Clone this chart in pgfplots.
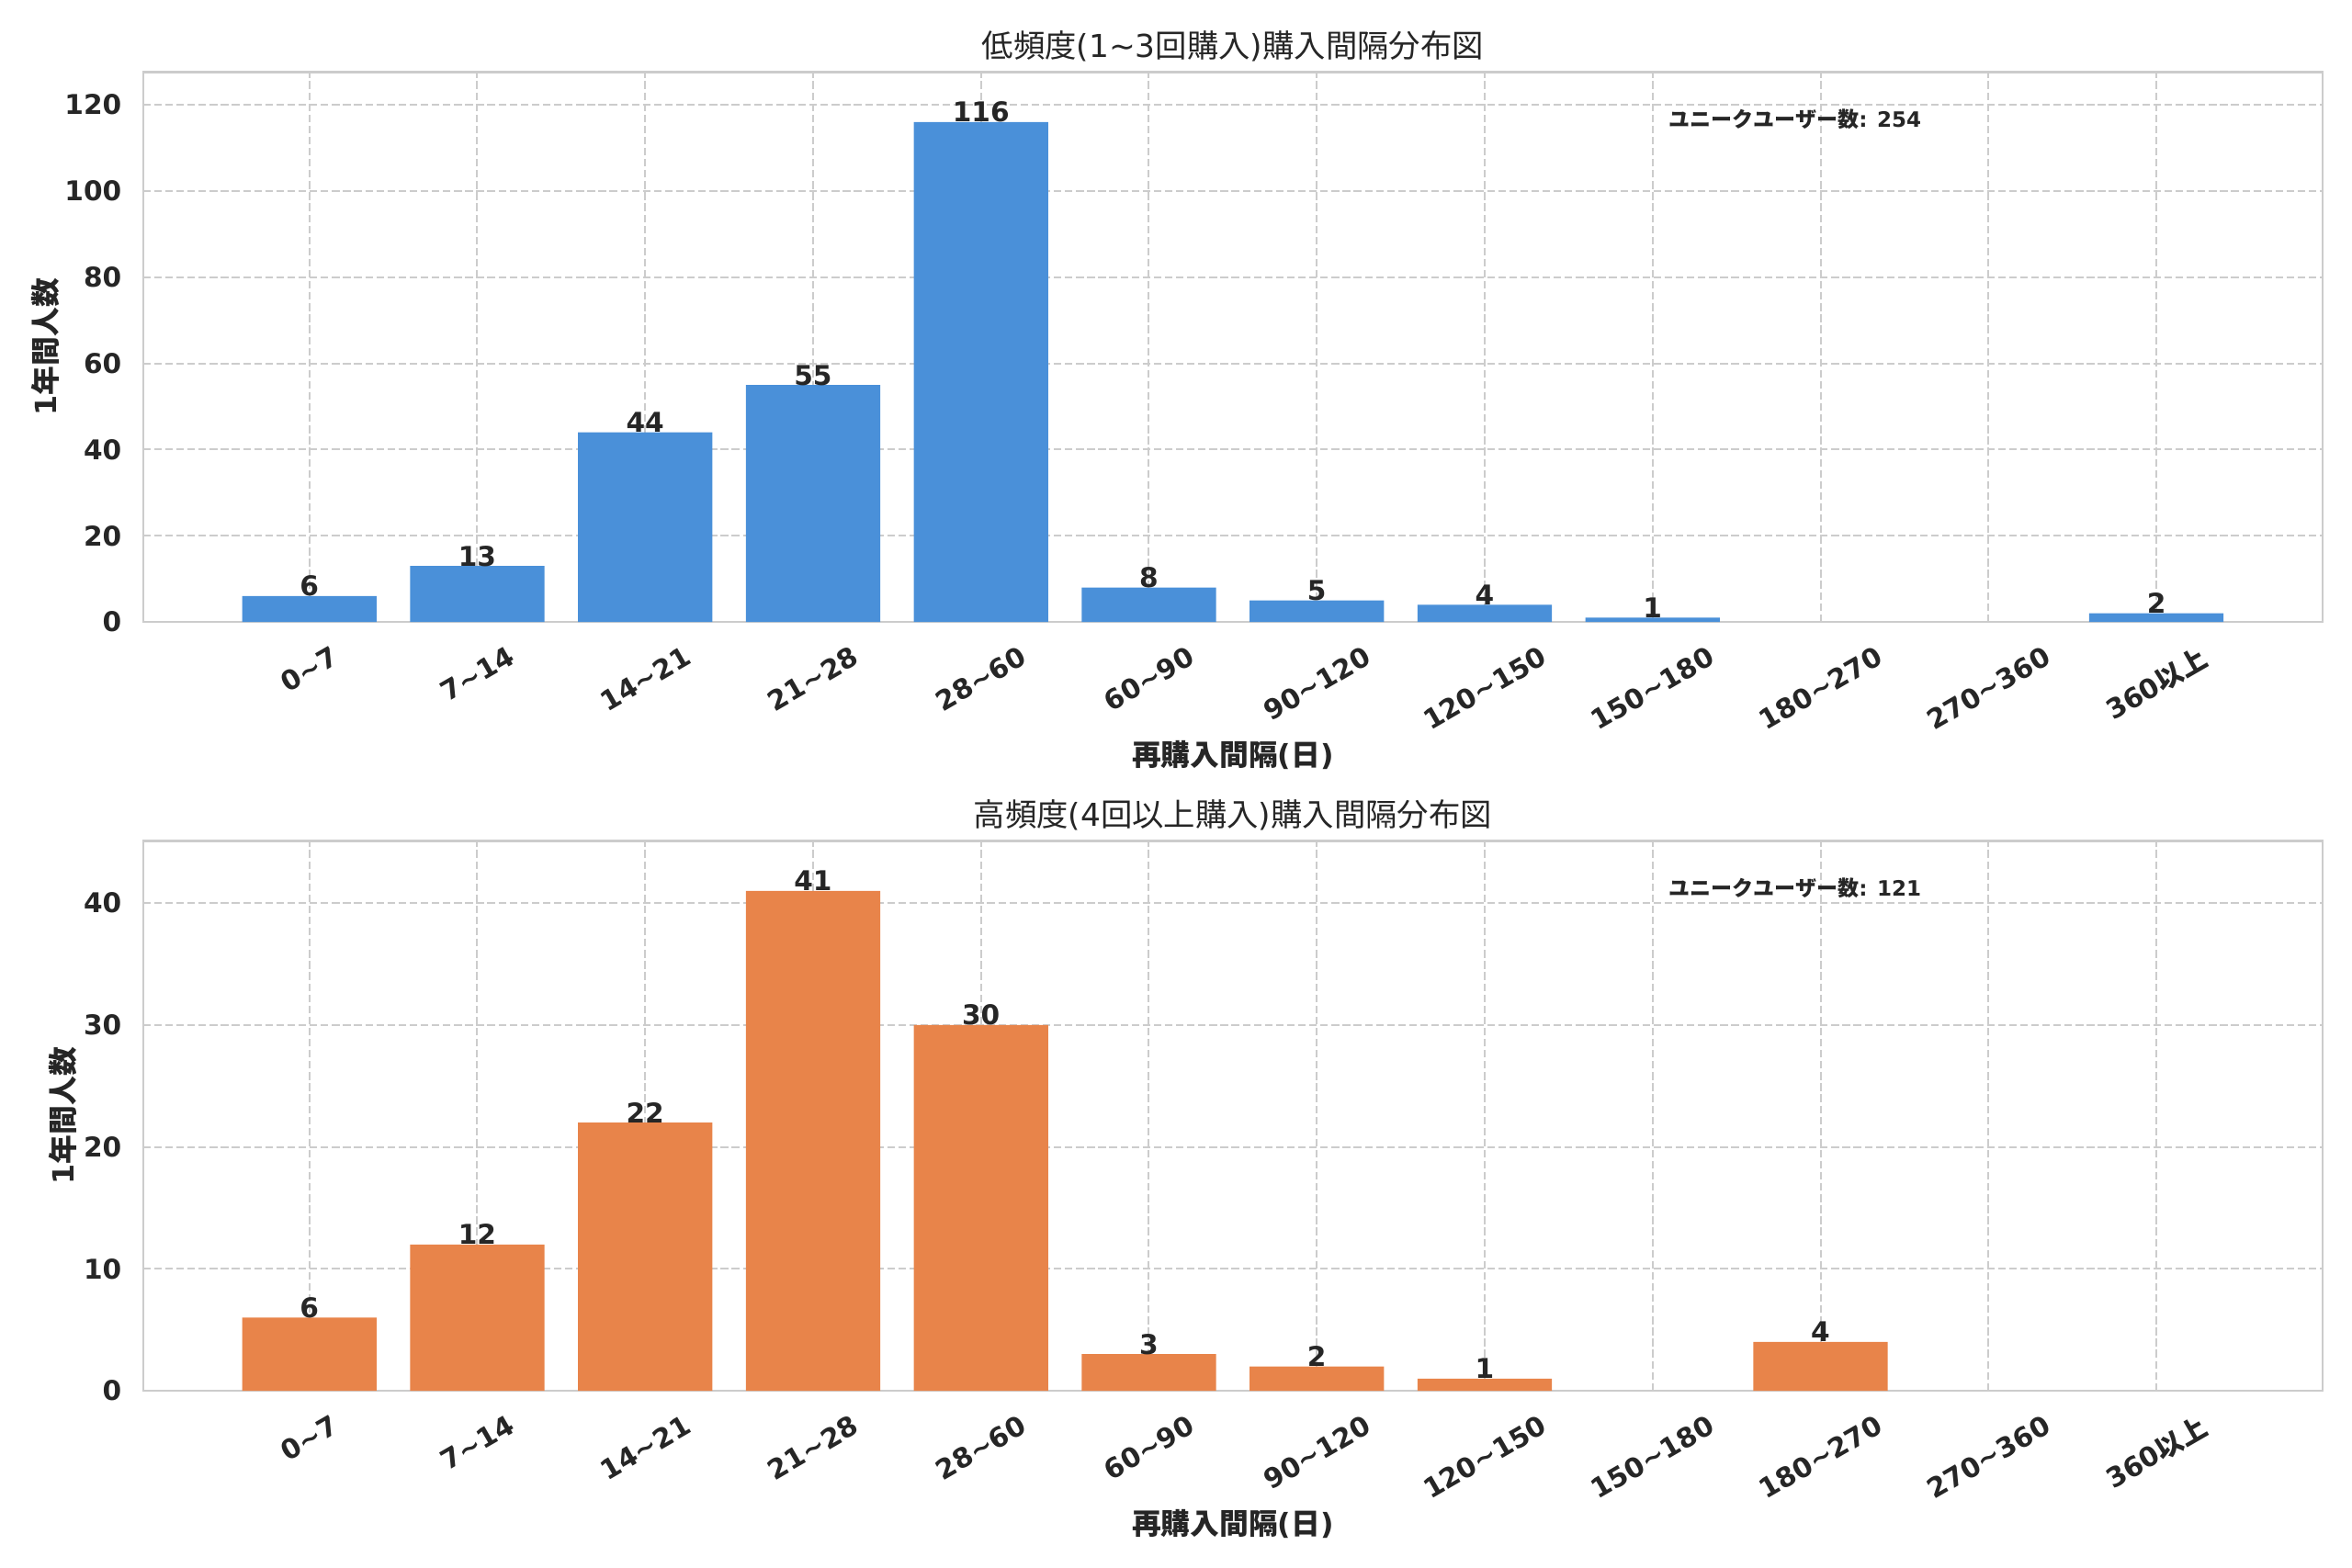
\documentclass[border=0pt]{standalone}
\usepackage{fontspec}
\setmainfont{DejaVu Sans}
\newfontfamily\ja{Noto Sans CJK JP}
\usepackage{graphicx}
\usepackage{pgfplots}
\pgfplotsset{compat=1.18}
\definecolor{barblue}{HTML}{4A90D9}
\definecolor{barorange}{HTML}{E8844A}
\definecolor{gridc}{HTML}{CCCCCC}
\definecolor{txt}{HTML}{262626}
\newcommand\R[1]{\rotatebox{30}{#1}}
\newcommand\tl{\textasciitilde}
\pgfplotsset{
  /pgf/number format/assume math mode=true,
  mystyle/.style={
    scale only axis, width=1000.8pt, height=252.5pt,
    xmin=-0.99, xmax=11.99, ymin=0,
    xtick={0,...,11},
    xticklabels={\R{0\tl7},\R{7\tl14},\R{14\tl21},\R{21\tl28},\R{28\tl60},\R{60\tl90},\R{90\tl120},\R{120\tl150},\R{150\tl180},\R{180\tl270},\R{270\tl360},\R{360{\ja 以上}}},
    major tick length=0pt,
    axis line style={draw=gridc, line width=1pt},
    grid=major,
    major grid style={draw=gridc, line width=0.85pt, dash pattern=on 3.5pt off 1.6pt},
    tick label style={font=\fontsize{12.5}{15}\selectfont\bfseries, text=txt},
    xticklabel style={anchor=north, inner sep=0pt, yshift=-10.5pt},
    yticklabel style={anchor=east, inner sep=0pt, xshift=-9.7pt},
    ybar, bar width=0.8,
    nodes near coords,
    nodes near coords style={anchor=base, inner sep=0pt, font=\fontsize{12.5}{15}\selectfont\bfseries, text=txt},
    title style={at={(axis description cs:0.5,1.0467)}, anchor=center, yshift=-6pt, font=\fontsize{14.5}{17}\selectfont, text=txt},
    xlabel style={at={(axis description cs:0.5,-0.2424)}, anchor=center, font=\fontsize{13.4}{16}\selectfont\bfseries, text=txt},
    ylabel style={anchor=center, font=\fontsize{13.4}{16}\selectfont\bfseries, text=txt},
    xlabel={{\ja 再購入間隔}({\ja 日})},
    ylabel={1{\ja 年間人数}},
  }
}
\begin{document}
\begin{tikzpicture}
\path[use as bounding box] (0,0) rectangle (1080pt,720.14pt);
\begin{axis}[mystyle, at={(65.7pt,434.5pt)}, anchor=south west,
  ymax=127.6, ytick={0,20,...,120},
  ylabel style={at={(axis description cs:-0.045,0.5)}},
  title={{\ja 低頻度}(1\tl3{\ja 回購入}){\ja 購入間隔分布図}}]
\addplot[fill=barblue, draw=none] coordinates {(0,6) (1,13) (2,44) (3,55) (4,116) (5,8) (6,5) (7,4) (8,1) (11,2)};
\node[anchor=west, inner sep=0pt, font=\fontsize{9.7}{12}\selectfont\bfseries, text=txt] at (axis description cs:0.7,0.915) {{\ja ユニークユーザー数}: 254};
\end{axis}
\begin{axis}[mystyle, at={(65.7pt,81.4pt)}, anchor=south west,
  ymax=45.1, ytick={0,10,...,40},
  ylabel style={at={(axis description cs:-0.0366,0.5)}},
  title={{\ja 高頻度}(4{\ja 回以上購入}){\ja 購入間隔分布図}}]
\addplot[fill=barorange, draw=none] coordinates {(0,6) (1,12) (2,22) (3,41) (4,30) (5,3) (6,2) (7,1) (9,4)};
\node[anchor=west, inner sep=0pt, font=\fontsize{9.7}{12}\selectfont\bfseries, text=txt] at (axis description cs:0.7,0.915) {{\ja ユニークユーザー数}: 121};
\end{axis}
\end{tikzpicture}
\end{document}
